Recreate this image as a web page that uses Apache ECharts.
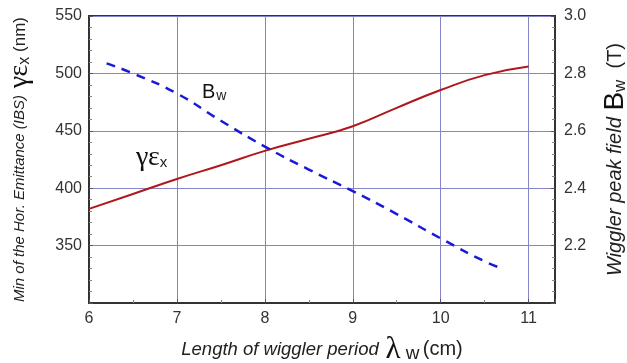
<!DOCTYPE html>
<html>
<head>
<meta charset="utf-8">
<script src="https://cdn.jsdelivr.net/npm/echarts@6/dist/echarts.min.js"></script>
<style>
html, body { margin: 0; padding: 0; background: #fff; }
#main { width: 627px; height: 363px; }
</style>
</head>
<body>
<div id="main"></div>
<script>
// emittance (left axis, nm) vs wiggler period (cm)
var periodE = [6, 6.5, 7, 7.5, 8, 8.5, 9, 9.5, 10, 10.5, 11];
var emittance = [382, 395, 408, 420, 432.5, 443, 454, 470, 485.5, 498.5, 506];
// wiggler peak field (right axis, T)
var periodB = [6.2, 6.5, 7, 7.5, 8, 8.5, 9, 9.5, 10, 10.5, 10.7];
var field = [2.835, 2.80, 2.73, 2.635, 2.545, 2.465, 2.39, 2.31, 2.225, 2.145, 2.12];

var leftTicks = [300, 550, 50];
var rightTicks = [2.0, 3.0, 0.2];

function pairs(xs, ys) {
	var out = [];
	for (var i = 0; i < xs.length; i++) out.push([xs[i], ys[i]]);
	return out;
}

var sans = 'Liberation Sans, Arial, sans-serif';
var serif = 'Liberation Serif, DejaVu Serif, serif';
var gridColor = '#8585c8';

var myChart = echarts.init(document.getElementById('main'));
var option = {
	animation: false,
	grid: {
		left: 89, right: 72, top: 16, bottom: 60,
		outerBoundsMode: 'none',
		containLabel: false,
		show: true, borderColor: '#333', borderWidth: 2
	},
	xAxis: {
		type: 'value',
		min: 6, max: 11.3, interval: 1,
		name: '{t|Length of wiggler period}  {l|λ}{s| w} {u|(cm)}',
		nameLocation: 'middle', nameGap: 31,
		nameTextStyle: {
			rich: {
				t: { fontFamily: sans, fontStyle: 'italic', fontSize: 18.5, color: '#222' },
				l: { fontFamily: serif, fontSize: 31, color: '#111' },
				s: { fontFamily: sans, fontSize: 19, color: '#222', padding: [9, 0, 0, 0] },
				u: { fontFamily: sans, fontSize: 20, color: '#222' }
			}
		},
		axisLine: { lineStyle: { color: '#333', width: 2 } },
		axisTick: { inside: true, length: 4, lineStyle: { color: '#555' } },
		minorTick: { show: true, splitNumber: 2, length: 3, lineStyle: { color: '#888' } },
		axisLabel: { showMaxLabel: false, fontFamily: sans, fontSize: 16, color: '#333', margin: 8 },
		splitLine: { show: true, lineStyle: { color: gridColor, width: 1 } }
	},
	yAxis: [
		{
			type: 'value',
			min: leftTicks[0], max: leftTicks[1], interval: leftTicks[2],
			name: '{t|Min of the Hor. Emittance (IBS)}  {g|γε}{s|x}{u| (nm)}',
			nameLocation: 'middle', nameGap: 55, nameRotate: 90,
			nameTextStyle: {
				rich: {
					t: { fontFamily: sans, fontStyle: 'italic', fontSize: 15, color: '#222' },
					g: { fontFamily: serif, fontSize: 28, color: '#111' },
					s: { fontFamily: sans, fontSize: 16, color: '#222', padding: [9, 0, 0, 0] },
					u: { fontFamily: sans, fontSize: 17, color: '#222' }
				}
			},
			axisLine: { show: true, lineStyle: { color: '#333', width: 2 } },
			axisTick: { inside: true, length: 4, lineStyle: { color: '#555' } },
			minorTick: { show: true, splitNumber: 5, length: 3, lineStyle: { color: '#888' } },
			axisLabel: { showMinLabel: false, fontFamily: sans, fontSize: 16, color: '#333', margin: 7 },
			splitLine: { show: true, lineStyle: { color: gridColor, width: 1 } }
		},
		{
			type: 'value',
			position: 'right',
			min: rightTicks[0], max: rightTicks[1], interval: rightTicks[2],
			name: '{t|Wiggler peak field}  {b|B}{s|w}{u|  (T)}',
			nameLocation: 'middle', nameGap: 46, nameRotate: 90,
			nameTextStyle: {
				rich: {
					t: { fontFamily: sans, fontStyle: 'italic', fontSize: 20, color: '#222' },
					b: { fontFamily: sans, fontSize: 28, color: '#111' },
					s: { fontFamily: sans, fontSize: 17, color: '#222', padding: [10, 0, 0, 0] },
					u: { fontFamily: sans, fontSize: 20, color: '#222' }
				}
			},
			axisLine: { show: true, lineStyle: { color: '#333', width: 2 } },
			axisTick: { inside: true, length: 4, lineStyle: { color: '#555' } },
			minorTick: { show: true, splitNumber: 5, length: 3, lineStyle: { color: '#888' } },
			axisLabel: {
				showMinLabel: false, fontFamily: sans, fontSize: 16, color: '#333', margin: 9,
				formatter: function (v) { return v.toFixed(1); }
			},
			splitLine: { show: false }
		}
	],
	graphic: [
		{
			type: 'text', left: 202, top: 82,
			style: {
				text: '{b|B}{s|w}',
				rich: {
					b: { fontFamily: sans, fontSize: 20, fill: '#111' },
					s: { fontFamily: sans, fontSize: 14, fill: '#222', padding: [8, 0, 0, 1] }
				}
			}
		},
		{
			type: 'text', left: 136, top: 144,
			style: {
				text: '{g|γε}{s|x}',
				rich: {
					g: { fontFamily: serif, fontSize: 28, fill: '#111' },
					s: { fontFamily: sans, fontSize: 15, fill: '#222', padding: [10, 0, 0, 0] }
				}
			}
		}
	],
	series: [
		{
			name: 'emittance',
			type: 'line',
			yAxisIndex: 0,
			smooth: true,
			symbol: 'none',
			lineStyle: { color: '#b0171c', width: 2 },
			data: pairs(periodE, emittance)
		},
		{
			name: 'Bw',
			type: 'line',
			yAxisIndex: 1,
			smooth: true,
			symbol: 'none',
			lineStyle: { color: '#1a1ad6', width: 2.5, type: [9, 7] },
			data: pairs(periodB, field)
		}
	]
};
myChart.setOption(option);
</script>
</body>
</html>
